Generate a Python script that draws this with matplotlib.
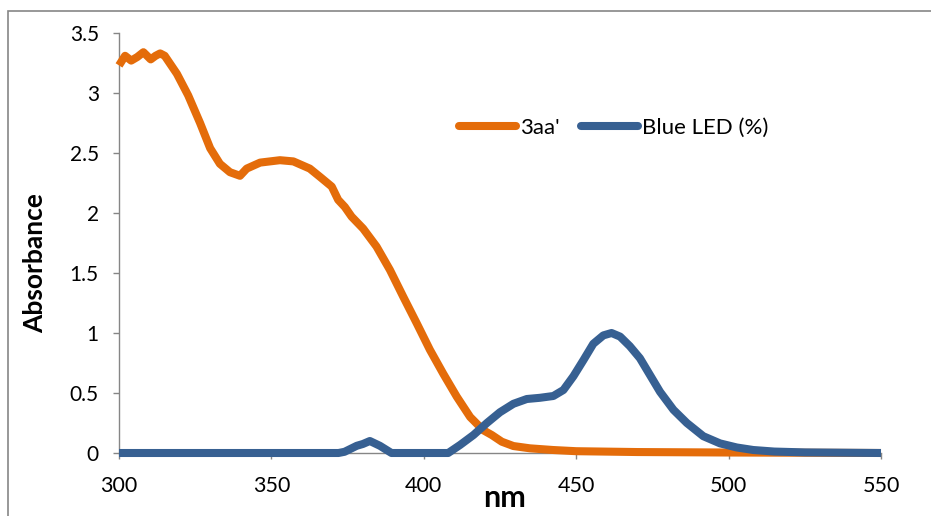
import matplotlib
matplotlib.use("Agg")
import matplotlib.pyplot as plt
from matplotlib.lines import Line2D
from matplotlib.patches import Rectangle

plt.rcParams["font.family"] = ["Lato", "DejaVu Sans"]

# 3aa' absorbance spectrum
nm_3aa = [300, 302, 304, 306, 308, 310.4, 312, 313.5, 315, 319, 322.7, 326.6,
          329.9, 333.1, 336.4, 339.7, 341.9, 346.3, 352.8, 357.2, 362.6, 366,
          369.8, 371.9, 374.1, 376.3, 380.1, 384.5, 388.9, 393.3, 397.7, 402.0,
          406.4, 410.8, 415.2, 419.5, 422.3, 425.6, 429.4, 434.8, 442.4, 450,
          470, 500, 550]
abs_3aa = [3.23, 3.31, 3.27, 3.30, 3.34, 3.28, 3.31, 3.33, 3.31, 3.16, 2.98, 2.75,
           2.54, 2.41, 2.34, 2.31, 2.37, 2.42, 2.44, 2.43, 2.37, 2.30,
           2.22, 2.11, 2.05, 1.97, 1.87, 1.72, 1.525, 1.30, 1.08, 0.86,
           0.66, 0.47, 0.30, 0.19, 0.15, 0.094, 0.058, 0.039, 0.025, 0.015,
           0.008, 0.004, 0.0]

# blue LED emission (normalised)
nm_led = [300, 372, 374, 378, 380, 382.3, 385.6, 389.4, 408, 411.9, 416.3, 420.7,
          425, 429.4, 433.8, 438.1, 442.5, 445.8, 449.1, 452.4, 455.6, 458.9,
          461.6, 464.4, 467.6, 470.9, 474.2, 477.5, 481.9, 486.3, 491.7, 497.2,
          502.7, 508.1, 515, 525, 550]
led = [0, 0, 0.01, 0.06, 0.075, 0.10, 0.06, 0, 0, 0.067, 0.15, 0.25,
       0.34, 0.41, 0.45, 0.46, 0.475, 0.525, 0.64, 0.775, 0.91, 0.98,
       1.0, 0.97, 0.89, 0.79, 0.65, 0.51, 0.36, 0.25, 0.14, 0.08,
       0.046, 0.025, 0.012, 0.005, 0]

xticks = [300, 350, 400, 450, 500, 550]
yticks = [0, 0.5, 1, 1.5, 2, 2.5, 3, 3.5]
ytick_labels = ["0", "0.5", "1", "1.5", "2", "2.5", "3", "3.5"]

orange = "#E46C0A"
blue = "#376092"
gray = "#868686"

fig = plt.figure(figsize=(9.31, 5.16), dpi=100)
ax = fig.add_axes([119 / 931, 1 - 453 / 516, 762 / 931, 420 / 516])

ax.plot(nm_3aa, abs_3aa, color=orange, lw=5.8, solid_joinstyle="round",
        solid_capstyle="butt", clip_on=False, zorder=3)
ax.plot(nm_led, led, color=blue, lw=5.8, solid_joinstyle="round",
        solid_capstyle="butt", clip_on=False, zorder=4)

ax.set_xlim(300, 550)
ax.set_ylim(0, 3.5)
ax.set_xticks(xticks)
ax.set_xticklabels([str(v) for v in xticks])
ax.set_yticks(yticks)
ax.set_yticklabels(ytick_labels)

for s in ["top", "right"]:
    ax.spines[s].set_visible(False)
for s in ["left", "bottom"]:
    ax.spines[s].set_color(gray)
    ax.spines[s].set_linewidth(1)
ax.tick_params(axis="both", direction="out", length=4.5, width=1, color=gray,
               labelcolor="black")
ax.tick_params(axis="x", labelsize=15.5, pad=12)
ax.tick_params(axis="y", labelsize=15, pad=10)

fig.text(35 / 931, 1 - 263 / 516, "Absorbance", rotation=90, ha="center",
         va="center", fontsize=19, fontweight="bold")
fig.text(505 / 931, 1 - 507 / 516, "nm", ha="center", va="baseline",
         fontsize=22, fontweight="bold")

handles = [
    Line2D([], [], color=orange, lw=5.8, solid_capstyle="round"),
    Line2D([], [], color=blue, lw=5.8, solid_capstyle="round"),
]
fig.legend(handles, ["3aa'", "Blue LED (%)"], loc="center left",
           bbox_to_anchor=(459 / 931, 1 - 128 / 516), ncol=2, frameon=False,
           fontsize=16, handlelength=2.55, handletextpad=0.2,
           columnspacing=0.95, borderpad=0, borderaxespad=0)

# outer chart border (cut off on the right and bottom)
fig.patches.append(Rectangle((8 / 931, -0.05), 1.1, 1 - 11 / 516 + 0.05,
                             transform=fig.transFigure, fill=False,
                             edgecolor=gray, lw=1.2))

fig.savefig("out.png", dpi=100)
